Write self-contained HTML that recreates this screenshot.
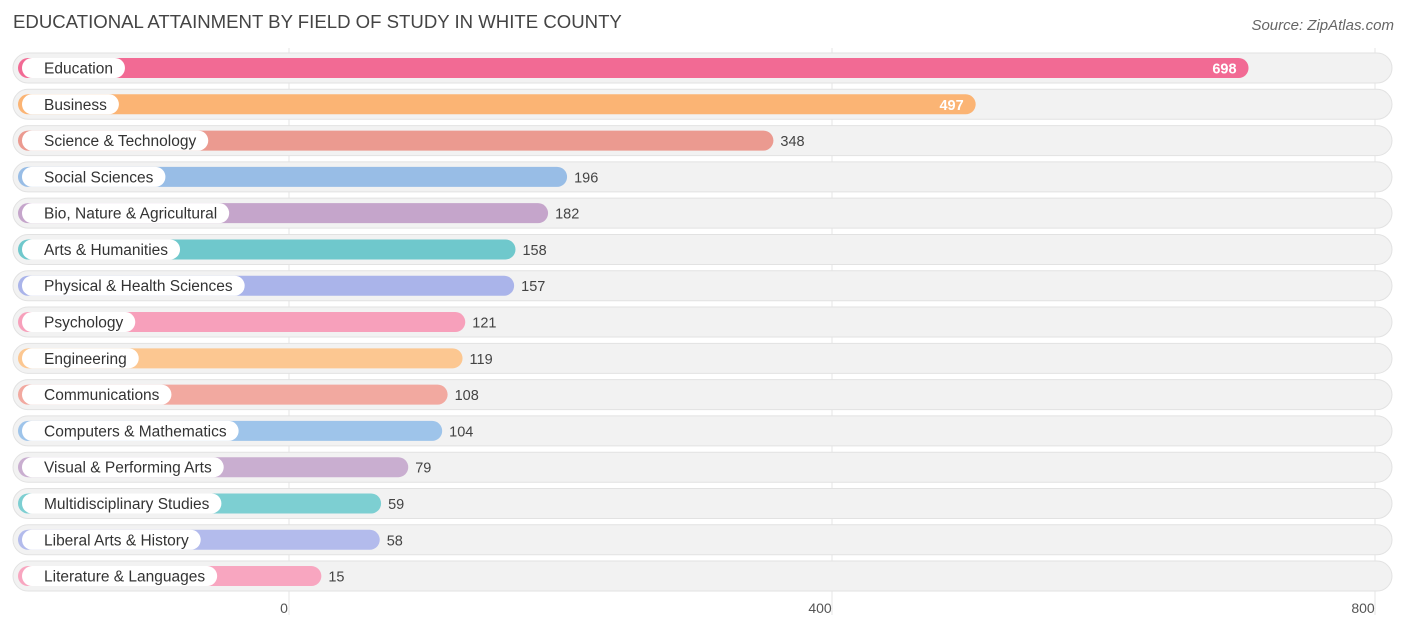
<!DOCTYPE html>
<html><head><meta charset="utf-8">
<style>
body{margin:0;width:1406px;height:631px;background:#fff;font-family:"Liberation Sans",sans-serif;overflow:hidden}
</style></head>
<body>
<svg width="1406" height="631">
<text x="13" y="28" font-size="18.6" fill="#444">EDUCATIONAL ATTAINMENT BY FIELD OF STUDY IN WHITE COUNTY</text>
<text x="1394" y="30" font-size="15" fill="#666" font-style="italic" text-anchor="end">Source: ZipAtlas.com</text>
<g id="grid"></g>
<g id="rows"></g>
<g id="ticks"></g>
</svg>
<script>
const categories=["Education","Business","Science & Technology","Social Sciences","Bio, Nature & Agricultural","Arts & Humanities","Physical & Health Sciences","Psychology","Engineering","Communications","Computers & Mathematics","Visual & Performing Arts","Multidisciplinary Studies","Liberal Arts & History","Literature & Languages"];
const values=[698,497,348,196,182,158,157,121,119,108,104,79,59,58,15];
const colors=["#f26a94","#fbb474","#eb9a90","#98bde6","#c5a5cb","#6fc8cc","#aab4ea","#f7a0bb","#fcc791","#f2a9a0","#9ec4ea","#c9aed0","#7dcfd2","#b3bbec","#f8a6c0"];
const tickValues=[0,400,800];
const NS="http://www.w3.org/2000/svg";
const x0=289,k=543/400;
const xs=v=>x0+v*k;
function mk(t,a,p){const e=document.createElementNS(NS,t);for(const n in a)e.setAttribute(n,a[n]);p.appendChild(e);return e;}
const grid=document.getElementById('grid'),rows=document.getElementById('rows'),ticks=document.getElementById('ticks');
tickValues.forEach(t=>{
 const l=mk('line',{x1:xs(t),x2:xs(t),y1:48,y2:615,stroke:'#e6e6e6','stroke-width':1},grid);
 
 
 const tx=mk('text',{x:xs(t)-(t===0?5:12),y:613,'font-size':14,fill:'#555','text-anchor':'middle'},ticks);
 tx.textContent=t;
 
 
});
categories.forEach((c,i)=>{
 const cy=68+i*36.29;
 const g=mk('g',{},rows);
 
 
 mk('rect',{x:13,y:cy-15,width:1379,height:30,rx:15,fill:'#f2f2f2',stroke:'#e2e2e2'},g);
 const end=xs(values[i])+12;
 const b=mk('rect',{x:18,y:cy-10,width:end-18,height:20,rx:10,fill:colors[i]},g);
 
 
 const pill=mk('rect',{x:22,y:cy-10,width:100,height:20,rx:10,fill:'#fff'},g);
 const lt=mk('text',{x:44,y:cy+5.5,'font-size':15.5,fill:'#333'},g);
 lt.textContent=c;
 
 
 let tw=c.length*8;
 try{tw=lt.getComputedTextLength();}catch(e){}
 pill.setAttribute('width',tw+34);
 const inside=values[i]>400;
 const vt=mk('text',{x:inside?end-12:end+7,y:cy+5.5,'font-size':14.5,fill:inside?'#fff':'#444','text-anchor':inside?'end':'start','font-weight':inside?'bold':'normal'},g);
 vt.textContent=values[i];
 
 
});
</script>
</body></html>
